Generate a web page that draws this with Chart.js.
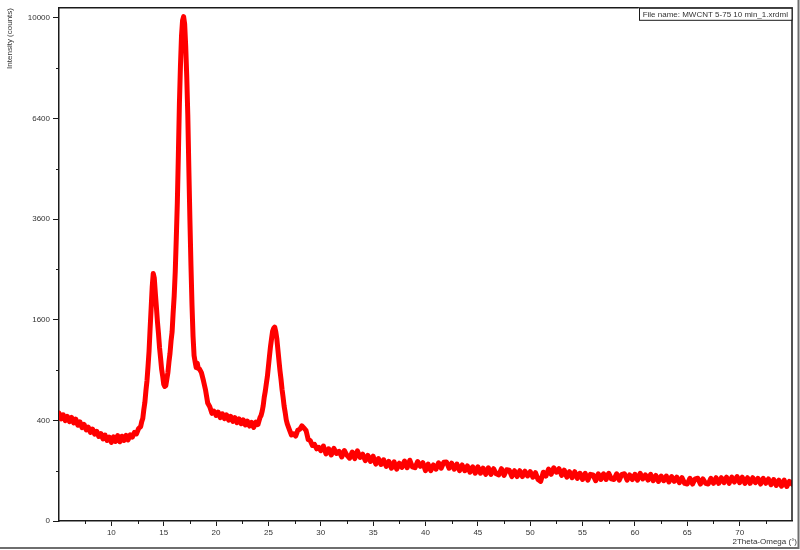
<!DOCTYPE html>
<html>
<head>
<meta charset="utf-8">
<script src="https://cdn.jsdelivr.net/npm/chart.js@4/dist/chart.umd.min.js"></script>
<style>
  html, body { margin: 0; padding: 0; background: #ffffff; }
  #wrap { width: 800px; height: 550px; position: relative; }
</style>
</head>
<body>
<div id="wrap"><canvas id="c" width="800" height="550"></canvas></div>
<script>
// ---------- DATA ----------
const FILE_LABEL = "File name: MWCNT 5-75 10 min_1.xrdml";
const X_TITLE = "2Theta-Omega (°)";
const Y_TITLE = "Intensity (counts)";

const xTickLabels = [10, 15, 20, 25, 30, 35, 40, 45, 50, 55, 60, 65, 70];
const xMinorTicks = [7.5, 12.5, 17.5, 22.5, 27.5, 32.5, 37.5, 42.5, 47.5, 52.5, 57.5, 62.5, 67.5, 72.5];
const yTickLabels = [0, 400, 1600, 3600, 6400, 10000];
const yMinorTicks = [100, 900, 2500, 4900, 8100];

// low-angle background, 5 - 12.8 deg
const lowAngles = [5.0,5.2,5.4,5.6,5.8,6.0,6.2,6.4,6.6,6.8,7.0,7.2,7.4,7.6,7.8,8.0,8.2,8.4,8.6,8.8,
  9.0,9.2,9.4,9.6,9.8,10.0,10.2,10.4,10.6,10.8,11.0,11.2,11.4,11.6,11.8,12.0,12.2,12.4,12.6,12.8];
const lowCounts = [460,412,446,398,432,390,424,380,410,362,388,344,368,328,348,310,334,298,318,282,
  302,266,292,256,278,244,280,250,288,248,284,256,290,260,294,278,310,300,338,352];

// double peak region, 12.9 - 18.4 deg
const peakAngles = [12.9,13.0,13.1,13.2,13.3,13.4,13.5,13.6,13.7,13.8,13.9,
  14.0,14.1,14.2,14.3,14.4,14.5,14.6,14.7,14.8,14.9,
  15.0,15.1,15.2,15.3,15.4,15.5,15.6,15.7,15.8,15.9,
  16.0,16.1,16.2,16.3,16.4,16.5,16.6,16.7,16.8,16.9,
  17.0,17.1,17.2,17.3,17.4,17.5,17.6,17.7,17.8,17.9,
  18.0,18.1,18.2,18.3,18.4];
const peakCounts = [390,415,490,555,670,775,940,1140,1460,1790,2160,
  2420,2330,2050,1810,1570,1390,1190,1050,910,830,
  740,715,725,795,870,1000,1110,1280,1410,1710,
  2000,2450,3150,4000,5300,6900,8200,9300,9900,10050,
  9750,8900,7800,6500,4900,3600,2600,1850,1350,1080,
  1000,930,985,920,915];

// shoulder and plateau, 18.6 - 24.2 deg
const midAngles = [18.6,18.8,19.0,19.2,19.4,19.6,19.8,20.0,20.2,20.4,20.6,20.8,21.0,21.2,21.4,
  21.6,21.8,22.0,22.2,22.4,22.6,22.8,23.0,23.2,23.4,23.6,23.8,24.0,24.2];
const midCounts = [870,775,675,550,515,458,476,440,468,422,454,414,444,402,432,
  392,422,382,412,374,404,364,394,356,384,346,386,368,424];

// peak near 25.6 deg
const peak2Angles = [24.3,24.4,24.5,24.6,24.7,24.8,24.9,25.0,25.1,25.2,25.3,25.4,25.5,
  25.6,25.7,25.8,25.9,26.0,26.1,26.2,26.3,26.4,26.5,26.6,26.7,26.8];
const peak2Counts = [440,475,525,605,665,745,825,945,1075,1205,1315,1425,1465,
  1485,1415,1315,1165,1025,895,795,685,605,520,465,405,372];

// small bump near 28.3 deg
const bumpAngles = [27.0,27.2,27.4,27.6,27.8,28.0,28.2,28.4,28.6,28.8,29.0,29.2,29.4,29.6,29.8,30.0];
const bumpCounts = [330,292,300,285,325,332,358,340,322,262,255,225,232,206,214,196];

// high-angle tail, 30.25 - 75 deg
const tailAngles = [30.25,30.5,30.75,
  31,31.25,31.5,31.75, 32,32.25,32.5,32.75, 33,33.25,33.5,33.75, 34,34.25,34.5,34.75,
  35,35.25,35.5,35.75, 36,36.25,36.5,36.75, 37,37.25,37.5,37.75, 38,38.25,38.5,38.75,
  39,39.25,39.5,39.75, 40,40.25,40.5,40.75, 41,41.25,41.5,41.75, 42,42.25,42.5,42.75,
  43,43.25,43.5,43.75, 44,44.25,44.5,44.75, 45,45.25,45.5,45.75, 46,46.25,46.5,46.75,
  47,47.25,47.5,47.75, 48,48.25,48.5,48.75, 49,49.25,49.5,49.75, 50,50.25,50.5,50.75,
  51,51.25,51.5,51.75, 52,52.25,52.5,52.75, 53,53.25,53.5,53.75, 54,54.25,54.5,54.75,
  55,55.25,55.5,55.75, 56,56.25,56.5,56.75, 57,57.25,57.5,57.75, 58,58.25,58.5,58.75,
  59,59.25,59.5,59.75, 60,60.25,60.5,60.75, 61,61.25,61.5,61.75, 62,62.25,62.5,62.75,
  63,63.25,63.5,63.75, 64,64.25,64.5,64.75, 65,65.25,65.5,65.75, 66,66.25,66.5,66.75,
  67,67.25,67.5,67.75, 68,68.25,68.5,68.75, 69,69.25,69.5,69.75, 70,70.25,70.5,70.75,
  71,71.25,71.5,71.75, 72,72.25,72.5,72.75, 73,73.25,73.5,73.75, 74,74.25,74.5,74.75, 75];
const tailCounts = [222,178,206,
  172,208,180,192, 162,196,170,156, 188,154,194,160, 176,144,170,140,
  166,128,154,126, 148,118,140,110, 138,106,132,114, 142,112,146,116,
  112,140,118,134, 100,128,100,124, 106,134,110,136, 138,110,132,106,
  128,100,124,100, 120,94,116,90, 116,90,110,86, 112,86,108,88,
  84,108,82,104, 102,78,100,78, 100,78,98,80, 96,76,92,68,
  62,94,80,106, 86,112,94,108, 82,102,76,96, 74,96,72,90,
  68,90,66,86, 84,64,88,68, 88,68,90,70, 68,88,66,86,
  88,66,84,68, 86,66,90,70, 84,66,86,64, 82,62,80,64,
  80,60,78,62, 76,58,74,56, 54,72,54,70, 72,54,70,56,
  54,72,56,74, 56,74,58,76, 56,76,60,78, 58,76,56,74,
  56,74,58,72, 54,72,56,70, 52,68,50,66, 48,66,47,62, 54];

// ---------- square-root intensity scale ----------
class SqrtScale extends Chart.LinearScale {
  configure() {
    super.configure();
    this._sMin = Math.sqrt(Math.max(this.min, 0));
    this._sMax = Math.sqrt(Math.max(this.max, 0));
  }
  buildTicks() {
    return yTickLabels.map(v => ({ value: v }));
  }
  getPixelForValue(value) {
    if (value === null || value === undefined || isNaN(value)) return NaN;
    const d = (Math.sqrt(Math.max(value, 0)) - this._sMin) / (this._sMax - this._sMin);
    return this.getPixelForDecimal(d);
  }
  getValueForPixel(pixel) {
    const s = this._sMin + this.getDecimalForPixel(pixel) * (this._sMax - this._sMin);
    return s * s;
  }
}
SqrtScale.id = 'sqrt';
SqrtScale.defaults = Chart.LinearScale.defaults;
Chart.register(SqrtScale);

// ---------- assemble points ----------
const allAngles = [].concat(lowAngles, peakAngles, midAngles, peak2Angles, bumpAngles, tailAngles);
const allCounts = [].concat(lowCounts, peakCounts, midCounts, peak2Counts, bumpCounts, tailCounts);
const points = allAngles.map((a, i) => ({ x: a, y: allCounts[i] }));

const FONT = '"Liberation Sans", Arial, sans-serif';
const AXIS_COLOR = '#1a1a1a';
const TEXT_COLOR = '#333333';

const decor = {
  id: 'decor',
  afterDraw(chart) {
    const { ctx, chartArea: ca, scales } = chart;
    ctx.save();
    // minor ticks
    ctx.strokeStyle = AXIS_COLOR;
    ctx.lineWidth = 1;
    ctx.beginPath();
    xMinorTicks.forEach(v => {
      const px = Math.round(scales.x.getPixelForValue(v)) + 0.5;
      ctx.moveTo(px, ca.bottom);
      ctx.lineTo(px, ca.bottom + 3);
    });
    yMinorTicks.forEach(v => {
      const py = Math.round(scales.y.getPixelForValue(v)) + 0.5;
      ctx.moveTo(ca.left, py);
      ctx.lineTo(ca.left - 3, py);
    });
    ctx.stroke();

    // top and right frame
    ctx.lineWidth = 1.5;
    ctx.beginPath();
    ctx.moveTo(ca.left, ca.top);
    ctx.lineTo(ca.right, ca.top);
    ctx.lineTo(ca.right, ca.bottom);
    ctx.stroke();

    // file name box
    ctx.font = '8px ' + FONT;
    const tw = ctx.measureText(FILE_LABEL).width;
    const bx = ca.right - tw - 8;
    ctx.fillStyle = '#ffffff';
    ctx.fillRect(bx, ca.top, ca.right - bx, 12);
    ctx.lineWidth = 1;
    ctx.strokeStyle = AXIS_COLOR;
    ctx.strokeRect(Math.round(bx) + 0.5, ca.top + 0.5, ca.right - Math.round(bx) - 0.5, 12);
    ctx.fillStyle = TEXT_COLOR;
    ctx.textAlign = 'left';
    ctx.textBaseline = 'middle';
    ctx.fillText(FILE_LABEL, bx + 4, ca.top + 6.5);

    // axis titles
    ctx.fillStyle = TEXT_COLOR;
    ctx.textAlign = 'right';
    ctx.textBaseline = 'middle';
    ctx.fillText(X_TITLE, 797, 541.5);
    ctx.save();
    ctx.translate(10, 8);
    ctx.rotate(-Math.PI / 2);
    ctx.textAlign = 'right';
    ctx.textBaseline = 'middle';
    ctx.fillText(Y_TITLE, 0, 0);
    ctx.restore();

    // outer window frame
    ctx.strokeStyle = '#6e6e6e';
    ctx.lineWidth = 2;
    ctx.beginPath();
    ctx.moveTo(0, 548);
    ctx.lineTo(799, 548);
    ctx.moveTo(798.5, 0);
    ctx.lineTo(798.5, 549);
    ctx.stroke();
    ctx.restore();
  }
};

new Chart(document.getElementById('c'), {
  type: 'line',
  data: {
    datasets: [{
      data: points,
      borderColor: '#ff0000',
      backgroundColor: '#ff0000',
      borderWidth: 5,
      pointRadius: 0,
      tension: 0,
      fill: false,
      borderJoinStyle: 'round',
      borderCapStyle: 'round'
    }]
  },
  options: {
    responsive: false,
    animation: false,
    devicePixelRatio: 1,
    layout: { padding: { left: 0, top: 6, right: 8, bottom: 0 } },
    plugins: { legend: { display: false }, tooltip: { enabled: false }, title: { display: false } },
    scales: {
      x: {
        type: 'linear',
        min: 5,
        max: 75,
        afterBuildTicks: s => { s.ticks = xTickLabels.map(v => ({ value: v })); },
        afterFit: s => { s.height = 29; },
        ticks: {
          autoSkip: false,
          maxRotation: 0,
          padding: 2,
          color: TEXT_COLOR,
          font: { family: FONT, size: 8 },
          callback: v => String(v)
        },
        grid: { display: true, drawOnChartArea: false, drawTicks: true, tickLength: 5, tickColor: AXIS_COLOR, tickWidth: 1 },
        border: { display: true, color: AXIS_COLOR, width: 1.5 }
      },
      y: {
        type: 'sqrt',
        position: 'left',
        min: 0,
        max: 10404,
        afterFit: s => { s.width = 59; },
        ticks: {
          autoSkip: false,
          padding: 3,
          color: TEXT_COLOR,
          font: { family: FONT, size: 8 },
          callback: v => String(v)
        },
        grid: { display: true, drawOnChartArea: false, drawTicks: true, tickLength: 6, tickColor: AXIS_COLOR, tickWidth: 1 },
        border: { display: true, color: AXIS_COLOR, width: 1.5 }
      }
    }
  },
  plugins: [decor]
});
</script>
</body>
</html>
